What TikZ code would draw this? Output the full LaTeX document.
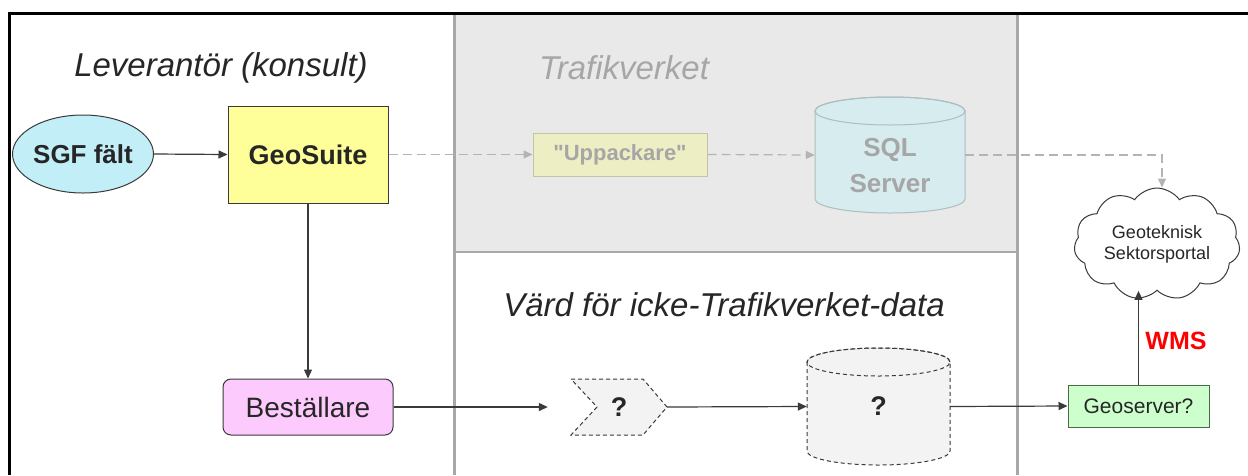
\documentclass[tikz,border=0pt]{standalone}
\usepackage{fontspec}
\setmainfont{Liberation Sans}[Ligatures=TeXOff]
\usetikzlibrary{shapes.symbols,shapes.geometric,arrows.meta}
\definecolor{txt}{HTML}{262626}
\definecolor{lin}{HTML}{3A3A3A}
\definecolor{ghostline}{HTML}{B4B4B4}
\definecolor{ghosttxt}{HTML}{A6A6A6}
\definecolor{panel}{HTML}{E9E9E9}
\definecolor{divider}{HTML}{A8A8A8}
\definecolor{sgffill}{HTML}{C2EFF7}
\definecolor{geofill}{HTML}{FFFF99}
\definecolor{uppfill}{HTML}{EEEEC4}
\definecolor{uppdraw}{HTML}{C4C4A4}
\definecolor{sqlfill}{HTML}{D6ECEE}
\definecolor{sqldraw}{HTML}{ACBEBE}
\definecolor{besfill}{HTML}{FCCAFC}
\definecolor{gsfill}{HTML}{CCFFCC}
\definecolor{gsdraw}{HTML}{4A6A4A}
\definecolor{qfill}{HTML}{F3F3F3}
\definecolor{wmsred}{HTML}{FF0000}
\begin{document}
\begin{tikzpicture}[x=1pt,y=-1pt,
  every node/.style={text=txt},
  conn/.style={draw=lin, line width=1.2pt, -{Triangle[length=9pt,width=8pt]}},
  ghostconn/.style={draw=ghostline, line width=1.2pt, dash pattern=on 9pt off 5pt, -{Triangle[length=9pt,width=8pt]}},
  solidbox/.style={draw=lin, line width=1pt, inner sep=0pt},
  anchorbox/.style={draw=none, inner sep=0pt},
  qshape/.style={draw=lin, fill=qfill, line width=1pt, dash pattern=on 4pt off 3pt},
  heading/.style={font=\fontsize{33}{38}\selectfont\itshape},
  bigbold/.style={font=\fontsize{27}{32}\selectfont\bfseries},
]
\useasboundingbox (0,0) rectangle (1248,475);
\fill[white] (0,0) rectangle (1248,475);
% panels
\fill[panel] (454,13) rectangle (1017,252);
\draw[divider, line width=2pt] (454,252) -- (1017,252);
\draw[divider, line width=3pt] (454,13) -- (454,475);
\draw[divider, line width=3pt] (1017,13) -- (1017,475);
\draw[black, line width=3pt] (9,475) -- (9,13) -- (1248,13);

% headings
\node[heading] (lev) at (221,68) {Leverantör (konsult)};
\node[heading, text=ghosttxt] (tv) at (624,68) {Trafikverket};
\node[heading] (vard) at (724,305) {Värd för icke-Trafikverket-data};

% top row
\node[ellipse, solidbox, fill=sgffill, minimum width=125pt, minimum height=78pt, font=\fontsize{26}{30}\selectfont\bfseries] (sgf) at (83,154) {SGF fält};
\node[rectangle, solidbox, fill=geofill, minimum width=160pt, minimum height=97pt, bigbold] (geosuite) at (308,154.5) {GeoSuite};
\node[rectangle, draw=uppdraw, line width=1pt, inner sep=0pt, fill=uppfill, minimum width=174pt, minimum height=43pt, text=ghosttxt, font=\fontsize{22}{26}\selectfont\bfseries] (upp) at (620,154.5) {"Uppackare"};

% SQL Server cylinder
\filldraw[draw=sqldraw, fill=sqlfill, line width=1pt] (815,111) -- (815,199) arc[start angle=180,end angle=360,x radius=75pt,y radius=14pt] -- (965,111) arc[start angle=0,end angle=180,x radius=75pt,y radius=14pt] -- cycle;
\draw[draw=sqldraw, line width=1pt] (890,111) ellipse[x radius=75pt, y radius=14pt];
\node[anchorbox, minimum width=150pt, minimum height=116pt] (sql) at (890,155) {};
\node[align=center, text=ghosttxt, font=\fontsize{26}{36}\selectfont\bfseries] (sqllbl) at (890,166) {SQL\\Server};

% cloud
\node[cloud, cloud puffs=11, cloud puff arc=110, aspect=1.6, draw=lin, fill=white, line width=1pt, inner sep=0pt, minimum width=166pt, minimum height=104pt, align=center, font=\fontsize{18}{21}\selectfont] (cloud) at (1157,244) {Geoteknisk\\Sektorsportal};

% bottom row
\node[rectangle, solidbox, rounded corners=8pt, fill=besfill, minimum width=170pt, minimum height=56pt, font=\fontsize{28}{32}\selectfont] (bes) at (308,407) {Beställare};

\filldraw[qshape] (571,379) -- (643,379) -- (667,407) -- (643,435) -- (571,435) -- (597,407) -- cycle;
\node[anchorbox, minimum width=96pt, minimum height=56pt, bigbold] (chev) at (619,407) {?};

\filldraw[qshape] (807,362) -- (807,451) arc[start angle=180,end angle=360,x radius=71.5pt,y radius=14pt] -- (950,362) arc[start angle=0,end angle=180,x radius=71.5pt,y radius=14pt] -- cycle;
\draw[qshape, fill=none] (878.5,362) ellipse[x radius=71.5pt, y radius=14pt];
\node[anchorbox, minimum width=143pt, minimum height=117pt, bigbold] (qcyl) at (878.5,406.5) {?};

\node[rectangle, draw=gsdraw, line width=1pt, inner sep=0pt, fill=gsfill, minimum width=141pt, minimum height=42pt, font=\fontsize{21}{25}\selectfont] (gs) at (1138.5,406) {Geoserver?};

\node[text=wmsred, font=\fontsize{25}{30}\selectfont\bfseries] (wms) at (1176,341) {WMS};

% connectors
\draw[conn] (sgf.east) -- (geosuite.west);
\draw[ghostconn] (geosuite.east) -- (upp.west);
\draw[ghostconn] (upp.east) -- (sql.west);
\draw[ghostconn] (sql.east) -| ([xshift=5pt]cloud.north);
\draw[conn] (geosuite.south) -- (bes.north);
\draw[conn, shorten >=23pt] (bes.east) -- (chev.west);
\draw[conn] (chev.east) -- (qcyl.west);
\draw[conn] (qcyl.east) -- (gs.west);
\draw[conn] (gs.north) -- (gs.north |- cloud.south);
\end{tikzpicture}
\end{document}
